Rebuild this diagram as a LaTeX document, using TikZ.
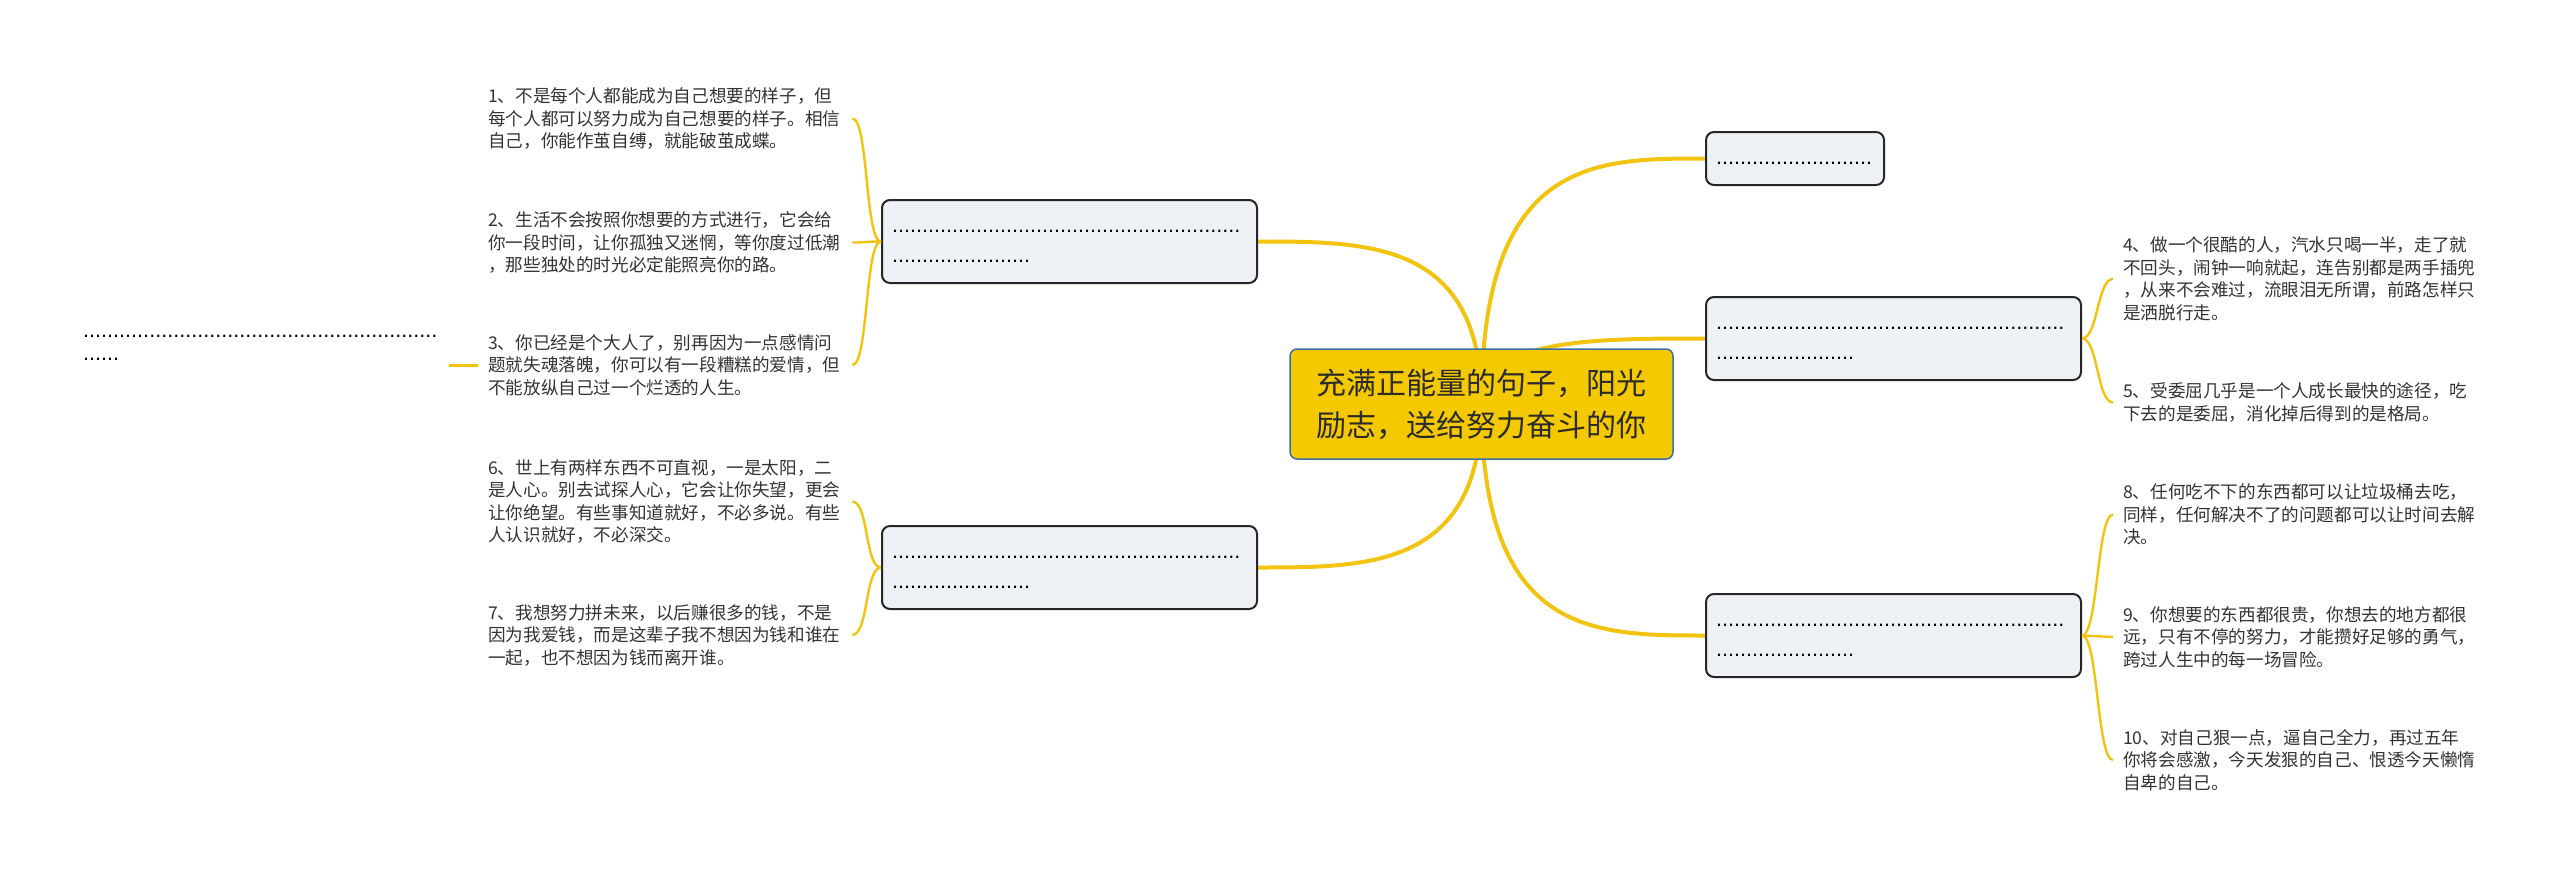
\documentclass[tikz,border=0pt]{standalone}
\usepackage{fontspec}
\setmainfont{Noto Sans CJK SC}
\newfontfamily\dotfont{Liberation Sans}
\usetikzlibrary{backgrounds,calc}
\definecolor{branch}{HTML}{F2C40F}
\definecolor{boxfill}{HTML}{EEF1F5}
\definecolor{rootfill}{HTML}{F5C900}
\definecolor{rootline}{HTML}{3A6EA5}
\definecolor{ink}{HTML}{333333}
\newcommand{\dstr}{\rule[-3pt]{0pt}{18pt}}
\newcommand{\dotrun}[1]{\ifnum#1>0 .\expandafter\dotrun\expandafter{\the\numexpr#1-1\relax}\fi}
\tikzset{
 root/.style={draw=rootline, line width=1.5pt, fill=rootfill, rounded corners=7pt,
   minimum width=383pt, minimum height=110pt, align=center,
   font=\fontsize{30}{42}\selectfont, text=ink!85!black, inner sep=0pt},
 topic/.style={draw=black!85, line width=2pt, fill=boxfill, rounded corners=8pt,
   minimum height=83pt, text width=355pt, inner xsep=10pt, inner ysep=0pt,
   align=left, font=\dotfont\fontsize{21.6}{30}\selectfont},
 leaf/.style={text width=354pt, inner xsep=10pt, inner ysep=0pt, align=left,
   text=ink, font=\fontsize{17.6}{22.5}\selectfont},
 main/.style={draw=branch, line width=4pt},
 sub/.style={draw=branch, line width=2.4pt},
}
\begin{document}
\begin{tikzpicture}[x=1pt,y=-1pt]
\useasboundingbox (0,0) rectangle (2560,878);

\node[root] (root) at (1481.5,404) {充满正能量的句子，阳光\\励志，送给努力奋斗的你};

\node[topic] (L1) at (1069.5,241.5) {\dstr\dotrun{58}\\\dstr\dotrun{23}};
\node[topic] (L2) at (1069.5,567.5) {\dstr\dotrun{58}\\\dstr\dotrun{23}};
\node[topic, text width=158pt, minimum height=53pt] (R1) at (1795,158.5) {\dstr\dotrun{26}};
\node[topic] (R2) at (1893.5,338.5) {\dstr\dotrun{58}\\\dstr\dotrun{23}};
\node[topic] (R3) at (1893.5,635.5) {\dstr\dotrun{58}\\\dstr\dotrun{23}};

\node[leaf, anchor=west] (t1) at (478,118.5) {1、不是每个人都能成为自己想要的样子，但\\每个人都可以努力成为自己想要的样子。相信\\自己，你能作茧自缚，就能破茧成蝶。};
\node[leaf, anchor=west] (t2) at (478,242.5) {2、生活不会按照你想要的方式进行，它会给\\你一段时间，让你孤独又迷惘，等你度过低潮\\，那些独处的时光必定能照亮你的路。};
\node[leaf, anchor=west] (t3) at (478,365) {3、你已经是个大人了，别再因为一点感情问\\题就失魂落魄，你可以有一段糟糕的爱情，但\\不能放纵自己过一个烂透的人生。};
\node[leaf, anchor=west] (t6) at (478,501.5) {6、世上有两样东西不可直视，一是太阳，二\\是人心。别去试探人心，它会让你失望，更会\\让你绝望。有些事知道就好，不必多说。有些\\人认识就好，不必深交。};
\node[leaf, anchor=west] (t7) at (478,635) {7、我想努力拼未来，以后赚很多的钱，不是\\因为我爱钱，而是这辈子我不想因为钱和谁在\\一起，也不想因为钱而离开谁。};

\node[leaf, anchor=west] (t4) at (2113,279) {4、做一个很酷的人，汽水只喝一半，走了就\\不回头，闹钟一响就起，连告别都是两手插兜\\，从来不会难过，流眼泪无所谓，前路怎样只\\是洒脱行走。};
\node[leaf, anchor=west] (t5) at (2113,402.5) {5、受委屈几乎是一个人成长最快的途径，吃\\下去的是委屈，消化掉后得到的是格局。};
\node[leaf, anchor=west] (t8) at (2113,514.5) {8、任何吃不下的东西都可以让垃圾桶去吃，\\同样，任何解决不了的问题都可以让时间去解\\决。};
\node[leaf, anchor=west] (t9) at (2113,637) {9、你想要的东西都很贵，你想去的地方都很\\远，只有不停的努力，才能攒好足够的勇气，\\跨过人生中的每一场冒险。};
\node[leaf, anchor=west] (t10) at (2113,760) {10、对自己狠一点，逼自己全力，再过五年\\你将会感激，今天发狠的自己、恨透今天懒惰\\自卑的自己。};

\node[inner xsep=12pt, inner ysep=0pt, align=left, anchor=base west,
  font=\dotfont\fontsize{21.6}{23}\selectfont] (far) at (71,360.5) {\dotrun{59}\\\dotrun{6}};

\begin{scope}[on background layer]
\fill[white] (0,0) rectangle (2560,878);
\foreach \n/\a in {L1/east, L2/east, R1/west, R2/west, R3/west}
  \draw[main] (root.center) .. controls (root.center |- \n.\a) and ($(root.center |- \n.\a)!0.5!(\n.\a)$) .. (\n.\a);
\end{scope}

\foreach \t in {t1,t2,t3}
  \draw[sub] (L1.west) .. controls +(-16,0) and +(16,0) .. (\t.east);
\foreach \t in {t6,t7}
  \draw[sub] (L2.west) .. controls +(-16,0) and +(16,0) .. (\t.east);
\foreach \t in {t4,t5}
  \draw[sub] (R2.east) .. controls +(16,0) and +(-16,0) .. (\t.west);
\foreach \t in {t8,t9,t10}
  \draw[sub] (R3.east) .. controls +(16,0) and +(-16,0) .. (\t.west);

\draw[main, line width=3pt] (far.east |- t3.west) -- (t3.west);
\end{tikzpicture}
\end{document}
